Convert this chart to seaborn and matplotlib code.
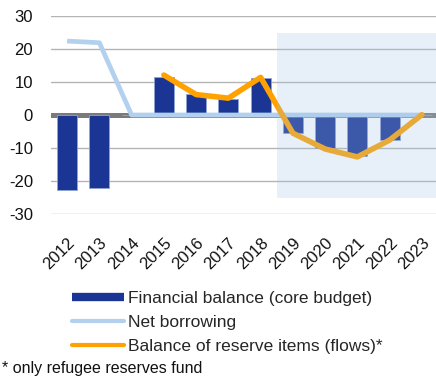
import numpy as np
import pandas as pd
import matplotlib
matplotlib.use("Agg")
import matplotlib.pyplot as plt
from matplotlib.patches import Rectangle
from matplotlib.lines import Line2D
import seaborn as sns

years = ["2012", "2013", "2014", "2015", "2016", "2017", "2018",
         "2019", "2020", "2021", "2022", "2023"]
financial_balance = [-22.7, -22.2, 0.0, 11.6, 6.3, 4.8, 11.1, -5.5, -9.9, -12.3, -7.6, 0.0]
net_borrowing = [22.4, 21.9, 0.0, 0.0, 0.0, 0.0, 0.0, 0.0, 0.0, 0.0, 0.0, 0.0]
reserve_flows = [np.nan, np.nan, np.nan, 12.1, 6.2, 5.1, 11.4, -5.5, -10.3, -12.7, -7.6, 0.1]
y_ticks = [-30, -20, -10, 0, 10, 20, 30]
forecast_start = "2019"

legend_labels = ["Financial balance (core budget)", "Net borrowing",
                 "Balance of reserve items (flows)*"]
footnote = "* only refugee reserves fund"

DARK_BLUE = "#1a3594"
LIGHT_BLUE = "#b3d1ef"
ORANGE = "#ffa200"
GRID = "#b4b4b4"
ZERO = "#7a7a7a"

sns.set_theme(style="white")
plt.rcParams["font.family"] = ["Liberation Sans", "DejaVu Sans"]

df = pd.DataFrame({
    "year": years,
    "pos": np.arange(len(years)),
    "balance": financial_balance,
    "borrowing": net_borrowing,
    "reserves": reserve_flows,
})

fig = plt.figure(figsize=(4.36, 3.76), dpi=100)
ax = fig.add_axes([51 / 436, 1 - 214 / 376, 387 / 436, 198 / 376])

# horizontal grid, with a heavier zero line
for v in y_ticks:
    if v != 0:
        ax.axhline(v, color=GRID, lw=1.0, zorder=0)
ax.axhline(0, color=ZERO, lw=3.6, zorder=1)

sns.barplot(data=df, x="year", y="balance", color=DARK_BLUE, width=0.62,
            saturation=1, edgecolor="#8ea3d6", linewidth=0.6, ax=ax, zorder=2)
sns.lineplot(data=df, x="pos", y="borrowing", color=LIGHT_BLUE, lw=3.4,
             ax=ax, zorder=3, solid_capstyle="butt")
sns.lineplot(data=df, x="pos", y="reserves", color=ORANGE, lw=4.0,
             ax=ax, zorder=4, solid_capstyle="round", solid_joinstyle="round")

# translucent band over the planning years
x0 = years.index(forecast_start) - 0.5
ax.add_patch(Rectangle((x0, -25), len(years) - x0 + 0.5, 50,
                       facecolor=(163 / 255, 195 / 255, 231 / 255), alpha=0.25,
                       edgecolor="none", zorder=5))

ax.set_xlim(-0.5, len(years) - 0.5)
ax.set_ylim(-30, 30)
ax.set_yticks(y_ticks)
ax.set_yticklabels([str(v) for v in y_ticks], fontsize=12, color="#111111")
ax.set_xticks(df["pos"])
ax.set_xticklabels(years, rotation=45, ha="right", va="top",
                   rotation_mode="anchor", fontsize=12, color="#111111")
ax.tick_params(axis="both", length=0)
ax.tick_params(axis="x", pad=15)
ax.tick_params(axis="y", pad=13)
ax.set_xlabel("")
ax.set_ylabel("")
for s in ax.spines.values():
    s.set_visible(False)
ax.patch.set_alpha(0)

handles = [
    Line2D([], [], color=DARK_BLUE, lw=6, solid_capstyle="butt"),
    Line2D([], [], color=LIGHT_BLUE, lw=3, solid_capstyle="round"),
    Line2D([], [], color=ORANGE, lw=3, solid_capstyle="round"),
]
fig.legend(handles, legend_labels, loc="upper left",
           bbox_to_anchor=(72 / 436, 1 - 291 / 376), frameon=False,
           fontsize=12.5, handlelength=3.0, handletextpad=0.25,
           labelspacing=0.5, borderaxespad=0, borderpad=0)

fig.text(2 / 436, 1 - 361 / 376, footnote, fontsize=11.5, va="top", ha="left",
         color="#111111")

fig.savefig("out.png", dpi=100)
